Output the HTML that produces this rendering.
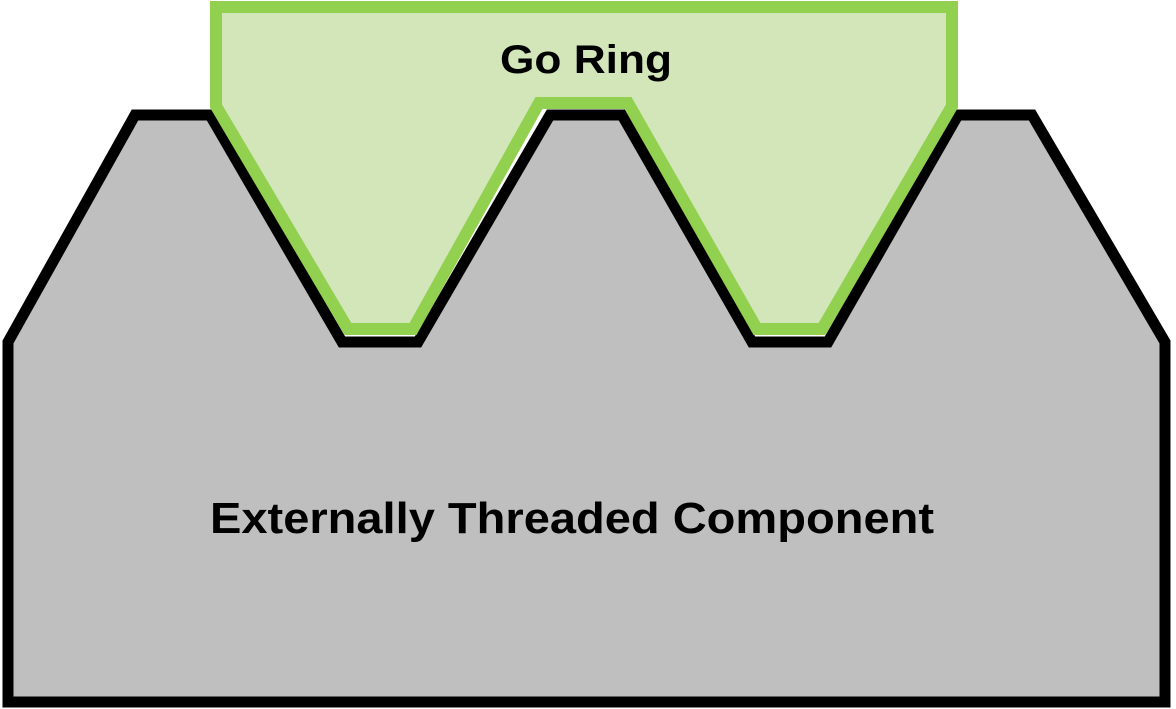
<!DOCTYPE html>
<html><head><style>html,body{margin:0;padding:0;background:#fff;width:1176px;height:709px;overflow:hidden}</style></head>
<body>
<svg width="1176" height="709" viewBox="0 0 1176 709" xmlns="http://www.w3.org/2000/svg">
<polygon points="8,342 135,115 210,115 342,342 418,342 550,115 622,115 752,342 828,342 958,115 1032,115 1165,342 1165,702 8,702" fill="#bfbfbf" stroke="#000" stroke-width="11" stroke-linejoin="miter"/>
<polygon points="216,7 952,7 952,106 822,329 757,329 628,103 539,103 413,329 348,329 216,106" fill="#d3e6b9" stroke="#92d050" stroke-width="12"/>
<text x="586" y="73" font-family="Liberation Sans, sans-serif" font-weight="bold" font-size="40" text-anchor="middle" textLength="172" lengthAdjust="spacingAndGlyphs">Go Ring</text>
<text x="572" y="533" font-family="Liberation Sans, sans-serif" font-weight="bold" font-size="44" text-anchor="middle" textLength="724" lengthAdjust="spacingAndGlyphs">Externally Threaded Component</text>
</svg>
</body></html>
